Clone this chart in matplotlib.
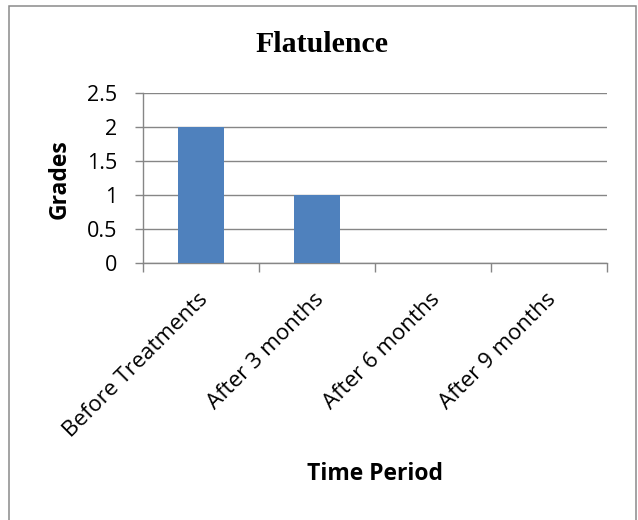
import matplotlib.pyplot as plt
import matplotlib.patches as patches
import matplotlib.transforms as mtransforms
import numpy as np

# Flatulence grades over the follow-up period
periods = ['Before Treatments', 'After 3 months', 'After 6 months', 'After 9 months']
grades = [2, 1, 0, 0]
y_ticks = [0, 0.5, 1, 1.5, 2, 2.5]
y_tick_labels = ['0', '0.5', '1', '1.5', '2', '2.5']

BAR_COLOR = '#4F81BD'
GRID_COLOR = '#868686'
SANS = ['Open Sans', 'DejaVu Sans']
W, H = 638, 520

fig = plt.figure(figsize=(W / 100, H / 100), dpi=100)
fig.patch.set_facecolor('white')

# Outer chart frame (bottom edge runs off the canvas)
fig.add_artist(patches.Rectangle((9 / W, -0.02), 627 / W, 1.02 - 6 / H,
                                 transform=fig.transFigure, fill=False,
                                 edgecolor='#8a8a8a', linewidth=1.1))

ax = fig.add_axes([143 / W, 1 - 263 / H, 464 / W, 170 / H])

x = np.arange(len(periods))
ax.bar(x, grades, width=0.4, color=BAR_COLOR, zorder=3)

ax.set_xlim(-0.5, len(periods) - 0.5)
ax.set_ylim(0, 2.5)

# Horizontal gridlines and axis styling
ax.set_yticks(y_ticks)
ax.set_yticklabels(y_tick_labels, fontsize=15.5, family=SANS)
ax.yaxis.grid(True, color=GRID_COLOR, linewidth=1.0, zorder=0)
ax.set_axisbelow(True)
for side in ['top', 'right']:
    ax.spines[side].set_visible(False)
for side in ['left', 'bottom']:
    ax.spines[side].set_color(GRID_COLOR)
    ax.spines[side].set_linewidth(1.0)
ax.tick_params(axis='y', length=5.8, width=1.0, color=GRID_COLOR, pad=12.5)

# Tick marks between categories, labels at category centres
ax.set_xticks(np.arange(-0.5, len(periods), 1.0))
ax.set_xticklabels([])
ax.tick_params(axis='x', which='major', length=6.5, width=1.0, color=GRID_COLOR)
ax.set_xticks(x, minor=True)
ax.set_xticklabels(periods, minor=True, rotation=45, ha='right', va='top',
                   rotation_mode='anchor', fontsize=16, family=SANS)
ax.tick_params(axis='x', which='minor', length=0, pad=19)
shift = mtransforms.ScaledTranslation(-4 / 100, 0, fig.dpi_scale_trans)
for lbl in ax.get_xticklabels(minor=True):
    lbl.set_transform(lbl.get_transform() + shift)

fig.text(60 / W, 1 - 179 / H, 'Grades', rotation=90, ha='center', va='center',
         fontsize=16.5, fontweight='bold', family=SANS)
fig.text(375 / W, 1 - 474 / H, 'Time Period', ha='center', va='center',
         fontsize=16.5, fontweight='bold', family=SANS)
fig.text(322 / W, 1 - 45 / H, 'Flatulence', ha='center', va='center',
         fontsize=21.5, fontweight='bold', family=['Liberation Serif', 'DejaVu Serif'])

fig.savefig('out.png', dpi=100, facecolor='white')
